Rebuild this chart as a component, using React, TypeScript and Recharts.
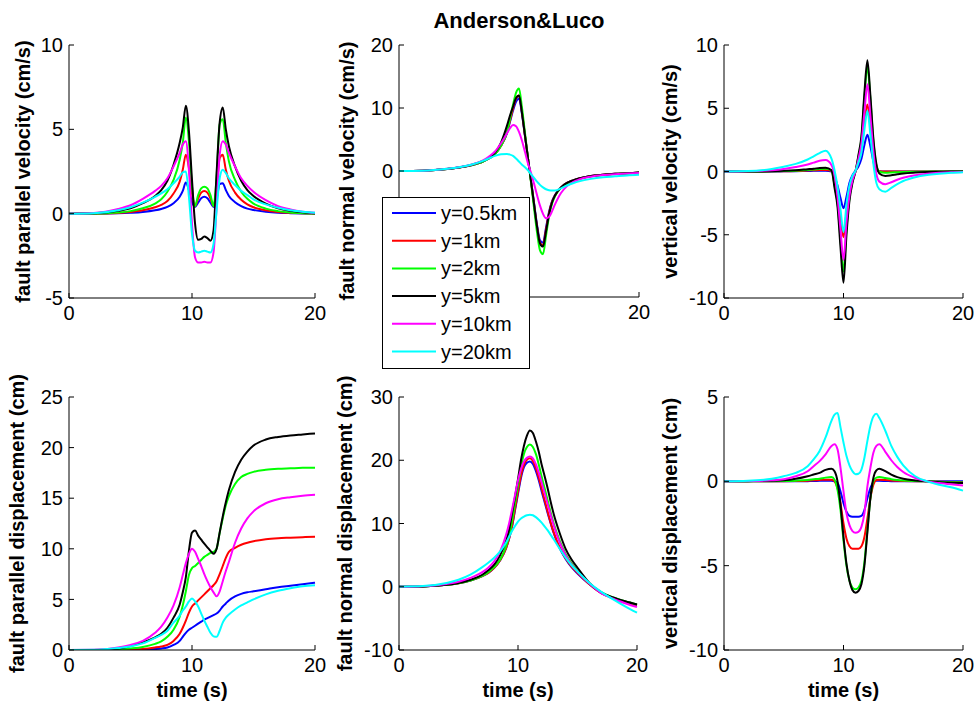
import { LineChart, Line, XAxis, YAxis } from 'recharts';

const FONT = '"Liberation Sans", Arial, Helvetica, sans-serif';

const time = [0, 2, 4, 5, 6, 7, 7.5, 8, 8.5, 9, 9.25, 9.5, 9.75, 10, 10.25, 10.5, 10.75, 11, 11.25, 11.5, 11.75, 12, 12.25, 12.5, 12.75, 13, 13.5, 14, 14.5, 15, 16, 17, 18, 19, 20];

const seriesNames = ['y=0.5km', 'y=1km', 'y=2km', 'y=5km', 'y=10km', 'y=20km'];
const seriesColors = ['#0000ff', '#ff0000', '#00ff00', '#000000', '#ff00ff', '#00ffff'];

const xTicks = [0, 10, 20];

// each table: one row per station, same order as seriesNames
const parallelVelocity = [
  [0, 0, 0.02, 0.05, 0.1, 0.2, 0.28, 0.4, 0.62, 1.0, 1.35, 1.85, 1.4, 0.7, 0.4, 0.65, 0.92, 1.0, 0.92, 0.65, 0.4, 0.9, 1.75, 1.8, 1.4, 1.05, 0.68, 0.45, 0.3, 0.22, 0.12, 0.06, 0.03, 0.01, 0],
  [0, 0, 0.04, 0.1, 0.2, 0.38, 0.52, 0.75, 1.2, 1.9, 2.6, 3.5, 2.7, 1.2, 0.45, 0.9, 1.25, 1.35, 1.25, 0.9, 0.45, 1.5, 3.3, 3.5, 2.6, 1.95, 1.25, 0.82, 0.55, 0.38, 0.2, 0.1, 0.05, 0.02, 0],
  [0, 0.01, 0.07, 0.15, 0.32, 0.6, 0.85, 1.3, 2.0, 3.2, 4.2, 5.7, 4.3, 1.6, 0.45, 1.1, 1.5, 1.6, 1.5, 1.1, 0.45, 2.2, 5.3, 5.6, 4.2, 3.1, 2.0, 1.3, 0.88, 0.6, 0.3, 0.15, 0.07, 0.03, 0.01],
  [0, 0.02, 0.17, 0.32, 0.62, 1.05, 1.4, 1.95, 2.9, 4.2, 5.1, 6.4, 4.9, 2.0, -0.6, -1.55, -1.5, -1.35, -1.45, -1.6, -1.0, 2.4, 5.4, 6.3, 5.0, 4.0, 2.8, 1.95, 1.4, 1.05, 0.6, 0.32, 0.17, 0.08, 0.03],
  [0, 0.04, 0.28, 0.5, 0.88, 1.35, 1.65, 2.1, 2.8, 3.6, 4.1, 4.3, 2.6, -0.6, -2.6, -2.9, -2.9, -2.85, -2.9, -2.9, -2.3, 0.4, 3.5, 4.3, 4.1, 3.6, 2.8, 2.1, 1.65, 1.3, 0.8, 0.45, 0.25, 0.12, 0.05],
  [0, 0.03, 0.2, 0.38, 0.65, 1.0, 1.2, 1.45, 1.8, 2.2, 2.45, 2.5, 1.0, -1.2, -2.2, -2.3, -2.25, -2.2, -2.25, -2.3, -1.8, 0.2, 2.1, 2.6, 2.4, 2.1, 1.7, 1.35, 1.1, 0.85, 0.55, 0.35, 0.2, 0.12, 0.05],
];

const normalVelocity = [
  [0, 0.05, 0.3, 0.55, 0.9, 1.5, 2.0, 2.7, 4.0, 6.0, 7.8, 9.6, 11.0, 11.5, 9.0, 5.5, 2.0, -1.5, -5.0, -8.5, -11.0, -11.4, -9.0, -6.5, -4.8, -3.8, -2.6, -1.9, -1.5, -1.2, -0.8, -0.6, -0.45, -0.35, -0.25],
  [0, 0.05, 0.3, 0.55, 0.9, 1.5, 2.0, 2.7, 4.0, 6.1, 8.0, 9.9, 11.5, 12.0, 9.3, 5.6, 2.0, -1.6, -5.2, -8.8, -11.4, -11.8, -9.3, -6.7, -4.9, -3.9, -2.6, -1.9, -1.5, -1.2, -0.8, -0.6, -0.45, -0.35, -0.25],
  [0, 0.05, 0.3, 0.55, 0.9, 1.5, 2.0, 2.7, 4.0, 6.2, 8.3, 10.5, 12.4, 13.1, 10.0, 6.0, 2.0, -1.8, -5.8, -9.7, -12.6, -13.2, -10.3, -7.2, -5.2, -4.0, -2.7, -2.0, -1.55, -1.25, -0.85, -0.62, -0.48, -0.36, -0.26],
  [0, 0.05, 0.3, 0.55, 0.95, 1.6, 2.1, 2.9, 4.5, 7.2, 8.8, 10.2, 11.6, 12.0, 9.2, 5.6, 2.0, -1.6, -5.2, -8.8, -11.5, -12.0, -9.6, -6.9, -5.0, -3.9, -2.6, -1.9, -1.5, -1.2, -0.8, -0.6, -0.45, -0.35, -0.25],
  [0, 0.05, 0.35, 0.6, 1.0, 1.7, 2.3, 3.1, 4.4, 6.0, 6.8, 7.3, 7.1, 6.2, 4.8, 3.0, 1.2, -0.3, -2.0, -3.8, -5.5, -6.8, -7.5, -7.3, -6.4, -5.3, -3.5, -2.4, -1.75, -1.35, -0.9, -0.65, -0.5, -0.4, -0.3],
  [0, 0.05, 0.35, 0.6, 1.0, 1.6, 2.0, 2.4, 2.65, 2.7, 2.6, 2.4, 2.0, 1.5, 1.0, 0.6, 0.1, -0.5, -1.1, -1.7, -2.2, -2.6, -2.9, -3.05, -3.1, -3.1, -2.75, -2.3, -1.95, -1.65, -1.25, -1.0, -0.85, -0.7, -0.6],
];

const verticalVelocity = [
  [0, 0, 0, 0.01, 0.02, 0.04, 0.05, 0.06, 0.05, 0.0, -0.4, -1.1, -2.1, -2.9, -2.0, -0.9, -0.3, 0.05, 0.4, 1.0, 2.1, 2.9, 2.0, 0.8, 0.15, 0.02, 0, 0, 0, 0, 0, 0, 0, 0, 0],
  [0, 0, 0.01, 0.02, 0.04, 0.08, 0.1, 0.12, 0.12, 0.05, -0.7, -1.7, -3.6, -5.2, -3.2, -1.4, -0.5, 0.0, 0.8, 1.7, 3.8, 5.3, 3.6, 1.5, 0.3, 0.02, 0, 0, 0, 0, 0, 0, 0, 0, 0],
  [0, 0, 0.01, 0.03, 0.06, 0.12, 0.15, 0.2, 0.22, 0.1, -1.1, -2.5, -5.4, -7.9, -4.5, -2.1, -0.8, 0.0, 1.2, 2.6, 5.8, 8.3, 5.7, 2.4, 0.5, 0.0, -0.1, -0.08, -0.05, -0.03, -0.02, 0, 0, 0, 0],
  [0, 0, 0.02, 0.05, 0.1, 0.18, 0.22, 0.28, 0.3, 0.1, -1.3, -2.8, -6.0, -8.8, -5.0, -2.3, -0.9, 0.0, 1.3, 2.8, 6.2, 8.8, 6.0, 2.6, 0.6, -0.15, -0.35, -0.3, -0.22, -0.15, -0.08, -0.04, -0.02, 0, 0],
  [0, 0.02, 0.1, 0.2, 0.35, 0.55, 0.7, 0.85, 0.9, 0.5, -0.3, -2.0, -4.6, -7.0, -4.0, -1.9, -0.7, 0.0, 1.0, 2.2, 4.7, 6.9, 4.4, 1.6, -0.2, -0.8, -1.0, -0.85, -0.65, -0.5, -0.3, -0.18, -0.1, -0.05, -0.03],
  [0, 0.03, 0.2, 0.38, 0.6, 0.95, 1.2, 1.45, 1.65, 1.0, 0.1, -1.2, -3.0, -4.8, -2.6, -1.1, -0.35, 0.05, 0.7, 1.5, 3.3, 4.8, 2.9, 0.6, -0.9, -1.4, -1.6, -1.3, -1.0, -0.75, -0.45, -0.28, -0.18, -0.1, -0.05],
];

const parallelDisplacement = [
  [0, 0, 0, 0.02, 0.05, 0.1, 0.15, 0.25, 0.5, 0.9, 1.3, 1.7, 2.0, 2.2, 2.4, 2.6, 2.8, 3.0, 3.15, 3.3, 3.45, 3.6, 3.9, 4.3, 4.6, 4.9, 5.3, 5.55, 5.7, 5.8, 6.0, 6.2, 6.35, 6.5, 6.65],
  [0, 0, 0, 0.05, 0.1, 0.25, 0.35, 0.5, 0.9, 1.6, 2.2, 2.9, 3.7, 4.3, 4.6, 4.9, 5.2, 5.5, 5.8, 6.1, 6.4, 6.8, 7.5, 8.3, 9.1, 9.7, 10.1, 10.4, 10.6, 10.75, 10.95, 11.05, 11.1, 11.15, 11.2],
  [0, 0, 0.05, 0.15, 0.3, 0.6, 0.85, 1.3, 2.0, 3.3, 4.4, 5.8, 7.4, 8.1, 8.3, 8.6, 8.9, 9.2, 9.4, 9.6, 9.7, 10.0, 11.6, 13.0, 14.3, 15.2, 16.4, 17.1, 17.4, 17.6, 17.8, 17.9, 17.95, 18.0, 18.0],
  [0, 0, 0.15, 0.4, 0.75, 1.25, 1.6, 2.2, 3.2, 4.5, 5.7, 7.2, 9.8, 11.6, 11.8, 11.3, 10.9, 10.5, 10.15, 9.8, 9.5, 10.0, 11.6, 13.2, 14.6, 15.8, 17.6, 18.8, 19.6, 20.2, 20.8, 21.05, 21.2, 21.3, 21.4],
  [0, 0.02, 0.25, 0.5, 0.9, 1.7, 2.3, 3.2, 4.4, 6.2, 7.4, 8.6, 9.5, 10.0, 9.7, 9.0, 8.3, 7.5, 6.8, 6.2, 5.7, 5.3, 5.8, 6.8, 7.8, 8.7, 10.6, 12.0, 13.0, 13.7, 14.5, 14.9, 15.1, 15.25, 15.35],
  [0, 0.02, 0.2, 0.35, 0.65, 1.2, 1.5, 1.9, 2.7, 3.4, 3.9, 4.3, 4.8, 5.1, 4.8, 4.3, 3.6, 2.9, 2.3, 1.7, 1.35, 1.3, 1.9, 2.7, 3.2, 3.5, 4.0, 4.4, 4.7, 5.0, 5.5, 5.85, 6.1, 6.3, 6.4],
];

const normalDisplacement = [
  [0, 0.05, 0.3, 0.55, 1.0, 1.7, 2.2, 3.0, 4.2, 6.1, 7.6, 9.5, 12.1, 14.7, 17.2, 18.9, 19.6, 19.8, 19.4, 18.3, 16.8, 15.0, 13.3, 11.6, 10.0, 8.5, 6.1, 4.4, 3.1, 2.1, 0.4, -1.0, -1.8, -2.4, -2.9],
  [0, 0.05, 0.3, 0.55, 1.0, 1.7, 2.2, 3.0, 4.2, 6.1, 7.6, 9.6, 12.3, 15.0, 17.6, 19.3, 20.1, 20.3, 19.9, 18.8, 17.2, 15.4, 13.6, 11.8, 10.1, 8.6, 6.2, 4.5, 3.2, 2.2, 0.4, -1.0, -1.8, -2.4, -2.9],
  [0, 0.05, 0.3, 0.55, 1.0, 1.7, 2.3, 3.1, 4.3, 6.4, 8.0, 10.3, 13.2, 16.0, 18.9, 21.0, 22.1, 22.5, 22.1, 21.0, 19.3, 17.3, 15.5, 13.6, 11.7, 10.0, 7.3, 5.2, 3.7, 2.5, 0.5, -0.9, -1.7, -2.3, -2.8],
  [0, 0.05, 0.3, 0.6, 1.1, 1.9, 2.6, 3.5, 5.0, 7.3, 9.0, 11.6, 14.2, 17.0, 20.0, 22.3, 23.9, 24.7, 24.3, 23.0, 21.3, 19.2, 17.4, 15.5, 13.4, 11.5, 8.5, 6.0, 4.3, 3.0, 0.6, -0.9, -1.7, -2.3, -2.8],
  [0, 0.08, 0.45, 0.8, 1.4, 2.3, 3.0, 4.0, 5.6, 8.2, 10.0, 12.2, 14.5, 16.8, 18.6, 19.8, 20.4, 20.6, 20.3, 19.4, 18.0, 16.4, 14.7, 13.0, 11.3, 9.7, 7.0, 5.0, 3.5, 2.4, 0.5, -1.0, -1.9, -2.6, -3.2],
  [0, 0.1, 0.6, 1.1, 1.9, 3.1, 3.8, 4.6, 5.6, 7.0, 7.9, 8.8, 9.6, 10.3, 10.8, 11.1, 11.3, 11.4, 11.3, 11.0, 10.6, 10.1, 9.5, 8.9, 8.2, 7.5, 6.0, 4.6, 3.4, 2.4, 0.6, -0.8, -2.0, -3.1, -4.1],
];

const verticalDisplacement = [
  [0, 0, 0, 0, 0, 0.01, 0.02, 0.03, 0.04, 0.03, 0.0, -0.1, -0.6, -1.3, -1.8, -2.05, -2.1, -2.1, -2.1, -2.05, -1.7, -1.0, -0.4, -0.05, 0.03, 0.03, 0.02, 0.01, 0, 0, 0, 0, 0, 0, 0],
  [0, 0, 0, 0.01, 0.02, 0.04, 0.06, 0.08, 0.1, 0.1, 0.0, -0.4, -1.3, -2.5, -3.4, -3.85, -4.0, -4.0, -4.0, -3.85, -3.3, -2.2, -1.0, -0.2, 0.08, 0.1, 0.08, 0.05, 0.03, 0.02, 0.01, 0, -0.02, -0.04, -0.05],
  [0, 0, 0.01, 0.02, 0.04, 0.08, 0.12, 0.16, 0.22, 0.25, 0.1, -0.5, -1.7, -3.5, -5.0, -5.9, -6.3, -6.4, -6.3, -5.9, -4.8, -2.9, -1.0, 0.0, 0.22, 0.25, 0.2, 0.13, 0.08, 0.05, 0.02, 0, -0.03, -0.05, -0.07],
  [0, 0.01, 0.03, 0.06, 0.15, 0.3, 0.4, 0.5, 0.68, 0.75, 0.6, 0.0, -1.4, -3.3, -4.9, -5.9, -6.45, -6.6, -6.5, -6.1, -5.0, -3.0, -1.0, 0.2, 0.65, 0.75, 0.6, 0.4, 0.25, 0.15, 0.05, 0.0, -0.05, -0.08, -0.1],
  [0, 0.02, 0.06, 0.12, 0.3, 0.6, 0.9, 1.2, 1.6, 2.1, 2.2, 1.9, 0.8, -0.6, -1.9, -2.6, -2.95, -3.05, -3.0, -2.7, -1.9, -0.3, 0.8, 1.7, 2.1, 2.2, 1.75, 1.25, 0.85, 0.55, 0.2, 0.0, -0.1, -0.18, -0.25],
  [0, 0.03, 0.15, 0.3, 0.5, 0.9, 1.3, 1.8, 2.6, 3.6, 3.95, 4.05, 3.2, 2.3, 1.5, 0.95, 0.6, 0.42, 0.45, 0.7, 1.4, 2.4, 3.3, 3.85, 4.0, 3.75, 3.0, 2.1, 1.45, 0.95, 0.3, 0.0, -0.2, -0.35, -0.55],
];

type Box = { x: number; y: number; w: number; h: number };

interface PanelSpec {
  values: number[][];
  yLabel: string;
  yDomain: [number, number];
  yTicks: number[];
  shownYTicks?: number[];
  box: Box;
  labelGap: number;
  showTime: boolean;
}

const panels: PanelSpec[] = [
  { values: parallelVelocity, yLabel: 'fault parallel velocity (cm/s)', yDomain: [-5, 10], yTicks: [-5, 0, 5, 10], box: { x: 69, y: 45, w: 246, h: 253 }, labelGap: 46, showTime: false },
  { values: normalVelocity, yLabel: 'fault normal velocity (cm/s)', yDomain: [-20, 20], yTicks: [-20, -10, 0, 10, 20], shownYTicks: [0, 10, 20], box: { x: 399, y: 45, w: 240, h: 252 }, labelGap: 52, showTime: false },
  { values: verticalVelocity, yLabel: 'vertical velocity (cm/s)', yDomain: [-10, 10], yTicks: [-10, -5, 0, 5, 10], box: { x: 724, y: 45, w: 239, h: 253 }, labelGap: 54, showTime: false },
  { values: parallelDisplacement, yLabel: 'fault parallel displacement (cm)', yDomain: [0, 25], yTicks: [0, 5, 10, 15, 20, 25], box: { x: 69, y: 397, w: 246, h: 253 }, labelGap: 52, showTime: true },
  { values: normalDisplacement, yLabel: 'fault normal displacement (cm)', yDomain: [-10, 30], yTicks: [-10, 0, 10, 20, 30], box: { x: 399, y: 397, w: 238, h: 253 }, labelGap: 54, showTime: true },
  { values: verticalDisplacement, yLabel: 'vertical displacement (cm)', yDomain: [-10, 5], yTicks: [-10, -5, 0, 5], box: { x: 724, y: 397, w: 239, h: 253 }, labelGap: 54, showTime: true },
];

const LEFT = 70;
const TOP = 40;
const RIGHT = 20;
const BOTTOM = 60;

function Panel({ p }: { p: PanelSpec }) {
  const rows = time.map((t, i) => {
    const row: Record<string, number> = { t };
    p.values.forEach((arr, s) => {
      row['s' + s] = arr[i];
    });
    return row;
  });
  const { w, h } = p.box;

  const yLabel = () => {
    const cx = LEFT - p.labelGap;
    const cy = TOP + h / 2;
    return (
      <text x={cx} y={cy} transform={`rotate(-90 ${cx} ${cy})`} textAnchor="middle" dominantBaseline="central"
        fontFamily={FONT} fontWeight="bold" fontSize={20} fill="#000">
        {p.yLabel}
      </text>
    );
  };
  const xLabel = () =>
    p.showTime ? (
      <text x={LEFT + w / 2} y={TOP + h + 40} textAnchor="middle" dominantBaseline="central"
        fontFamily={FONT} fontWeight="bold" fontSize={20} fill="#000">
        time (s)
      </text>
    ) : null;

  const tickStyle = { fill: '#000', fontSize: 20, fontFamily: FONT };
  const shown = p.shownYTicks;

  return (
    <div style={{ position: 'absolute', left: p.box.x - LEFT, top: p.box.y - TOP }}>
      <LineChart width={w + LEFT + RIGHT} height={h + TOP + BOTTOM} data={rows}
        margin={{ top: TOP, right: RIGHT, bottom: 0, left: 0 }}>
        <XAxis dataKey="t" type="number" domain={[0, 20]} ticks={xTicks} interval={0}
          tickSize={-5} tickMargin={13} height={BOTTOM}
          stroke="#000" axisLine={{ stroke: '#000' }} tickLine={{ stroke: '#000' }}
          tick={tickStyle} label={xLabel} />
        <XAxis xAxisId="top" orientation="top" dataKey="t" type="number" domain={[0, 20]} ticks={xTicks}
          interval={0} tickSize={-5} height={0} tick={false}
          axisLine={{ stroke: '#000' }} tickLine={{ stroke: '#000' }} />
        <YAxis type="number" domain={p.yDomain} ticks={p.yTicks} interval={0} allowDataOverflow
          tickSize={-5} tickMargin={11} width={LEFT}
          axisLine={{ stroke: '#000' }} tickLine={{ stroke: '#000' }} tick={tickStyle}
          tickFormatter={(v: number) => (shown && !shown.includes(v) ? '' : String(v))}
          label={yLabel} />
        <YAxis yAxisId="right" orientation="right" type="number" domain={p.yDomain} ticks={p.yTicks}
          interval={0} tickSize={-5} width={0} tick={false}
          axisLine={{ stroke: '#000' }} tickLine={{ stroke: '#000' }} />
        {seriesNames.map((name, s) => (
          <Line key={name} name={name} dataKey={'s' + s} type="monotone" stroke={seriesColors[s]}
            strokeWidth={2} dot={false} activeDot={false} isAnimationActive={false} />
        ))}
      </LineChart>
    </div>
  );
}

function StationLegend() {
  const rowH = 27.7;
  return (
    <svg style={{ position: 'absolute', left: 382, top: 197, zIndex: 5 }} width={148} height={172}>
      <rect x={0.5} y={0.5} width={147} height={171} fill="#fff" stroke="#000" strokeWidth={1} />
      {seriesNames.map((name, i) => {
        const cy = 16 + i * rowH;
        return (
          <g key={name}>
            <line x1={10} x2={54} y1={cy} y2={cy} stroke={seriesColors[i]} strokeWidth={2} />
            <text x={59} y={cy} dominantBaseline="central" fontFamily={FONT} fontSize={20} fill="#000">
              {name}
            </text>
          </g>
        );
      })}
    </svg>
  );
}

export default function App() {
  return (
    <div style={{ position: 'absolute', left: 0, top: 0, width: 980, height: 706, background: '#fff', overflow: 'hidden' }}>
      <div style={{ position: 'absolute', left: 319, top: 9, width: 400, textAlign: 'center', fontFamily: FONT,
        fontWeight: 'bold', fontSize: 22, lineHeight: '24px', color: '#000', zIndex: 6 }}>
        Anderson&amp;Luco
      </div>
      {panels.map((p) => (
        <Panel key={p.yLabel} p={p} />
      ))}
      <StationLegend />
    </div>
  );
}
